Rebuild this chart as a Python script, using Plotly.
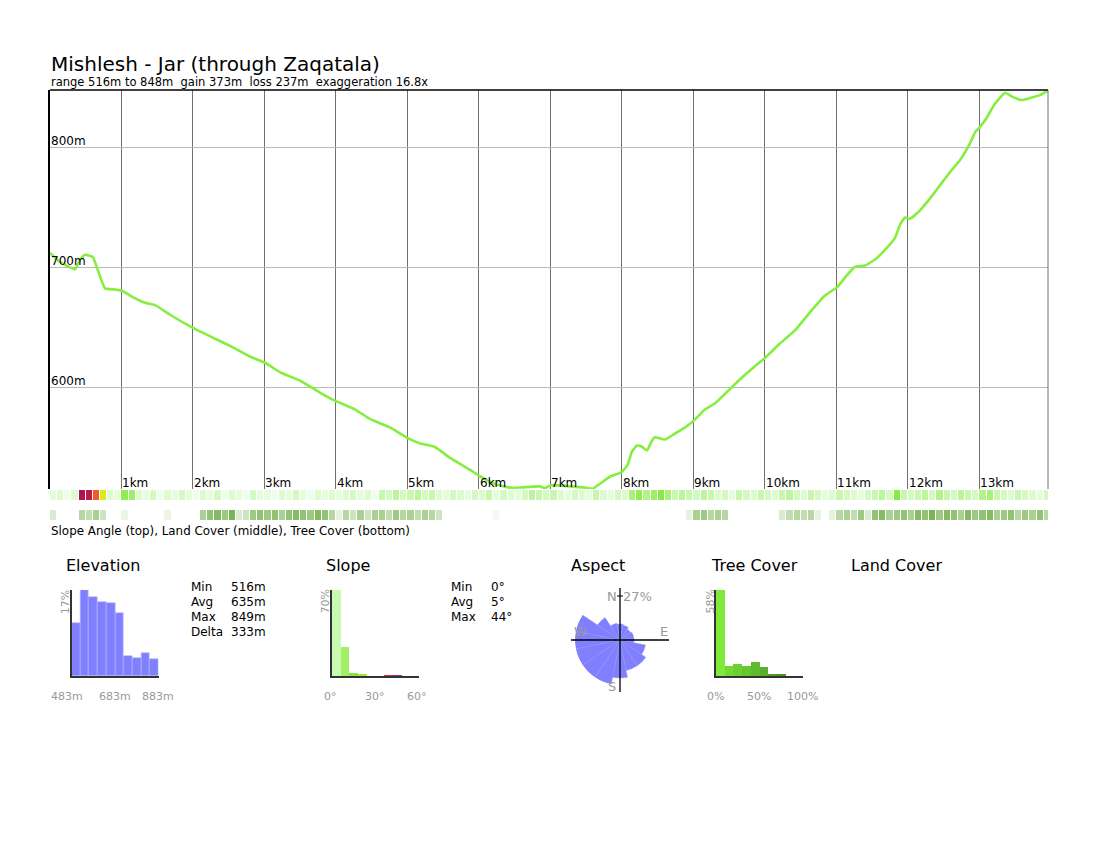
import plotly.graph_objects as go

# ---------------- data ----------------
TITLE = "Mishlesh - Jar (through Zaqatala)"
SUBTITLE = "range 516m to 848m  gain 373m  loss 237m  exaggeration 16.8x"
TOTAL_KM = 13.96

dist_km = [0.00, 0.14, 0.35, 0.42, 0.49, 0.60, 0.67, 0.77, 0.91, 1.01, 1.12, 1.33, 1.47, 1.68,
           2.00, 2.24, 2.52, 2.80, 3.01, 3.22, 3.50, 3.78, 4.00, 4.27, 4.48, 4.76, 5.01, 5.17,
           5.38, 5.59, 5.87, 6.00, 6.22, 6.43, 6.57, 6.85, 6.92, 7.01, 7.27, 7.48, 7.59, 7.69,
           7.83, 8.00, 8.08, 8.14, 8.21, 8.28, 8.35, 8.42, 8.46, 8.60, 8.74, 8.88, 9.01, 9.16,
           9.30, 9.44, 9.65, 9.86, 10.00, 10.21, 10.42, 10.63, 10.84, 11.01, 11.12, 11.26, 11.40,
           11.54, 11.68, 11.82, 11.89, 11.96, 12.03, 12.17, 12.31, 12.45, 12.59, 12.73, 12.87,
           12.94, 13.00, 13.08, 13.22, 13.36, 13.45, 13.59, 13.73, 13.85, 13.96]
elev_m = [712.5, 705, 699, 707, 711, 709, 698, 683, 682, 681, 677, 671, 669, 661,
          650, 643, 635, 626, 621, 613, 606, 596, 589, 582, 574, 567, 558, 554,
          551, 542, 532, 527, 520, 517, 517, 518, 516.5, 519, 518, 517, 516, 520,
          526, 530, 536, 547, 552, 551, 548, 556, 559, 557, 562, 567, 573, 582,
          587, 595, 607, 618, 625, 637, 648, 663, 677, 684, 692, 701, 702,
          707, 715, 725, 736, 742, 741, 748, 758, 769, 780, 790, 804,
          813, 817, 823, 837, 846, 843, 840, 842, 844, 848]

elev_ticks = [600, 700, 800]
km_ticks = list(range(1, 14))

# strips, one value per 0.1 km
slope_strip_deg = [
    3, 4, 2, 4, 45, 42, 35, 24, 4, 3,
    11, 10, 4, 3, 5, 2, 4, 3, 5, 3,
    2, 4, 3, 5, 2, 4, 3, 2, 5, 3,
    3, 2, 4, 3, 5, 3, 2, 4, 3, 4,
    3, 4, 5, 3, 4, 2, 6, 5, 7, 5,
    6, 7, 5, 6, 4, 3, 5, 4, 3, 5,
    4, 6, 3, 5, 4, 3, 5, 7, 6, 5,
    6, 4, 3, 5, 4, 3, 6, 4, 3, 5,
    4, 9, 11, 8, 10, 12, 9, 6, 7, 6,
    5, 7, 6, 4, 5, 3, 6, 5, 4, 6,
    5, 4, 6, 7, 5, 4, 6, 5, 3, 4,
    6, 5, 4, 3, 5, 6, 7, 5, 12, 6,
    5, 6, 7, 5, 8, 6, 5, 7, 6, 5,
    8, 9, 6, 5, 4, 6, 5, 4, 3, 5]
tree_strip_pct = [
    15, 0, 0, 0, 30, 25, 35, 20, 0, 0,
    8, 0, 0, 0, 0, 0, 8, 0, 0, 0,
    0, 35, 45, 50, 40, 55, 15, 20, 40, 45,
    40, 45, 35, 45, 50, 45, 40, 50, 45, 30,
    10, 30, 20, 35, 20, 35, 35, 25, 40, 30,
    35, 25, 35, 30, 20, 0, 0, 0, 0, 0,
    0, 0, 5, 0, 0, 0, 0, 0, 0, 0,
    0, 0, 0, 0, 0, 0, 0, 0, 0, 0,
    0, 0, 0, 0, 0, 0, 0, 0, 0, 10,
    35, 40, 30, 35, 30, 0, 0, 0, 0, 0,
    0, 0, 15, 25, 30, 25, 30, 10, 0, 10,
    30, 35, 25, 40, 15, 45, 50, 35, 40, 45,
    35, 50, 45, 55, 40, 50, 45, 35, 50, 40,
    45, 50, 35, 40, 45, 30, 40, 35, 45, 30]
STRIP_STEP = 0.1

# histograms
elev_bin_start = [483, 523, 563, 603, 643, 683, 723, 763, 803, 843]
elev_hist_pct = [10.5, 17.0, 15.7, 14.6, 14.4, 12.5, 3.9, 3.6, 4.5, 3.4]
elev_stats_labels = ["Min", "Avg", "Max", "Delta"]
elev_stats_values = ["516m", "635m", "849m", "333m"]
elev_axis_labels = ["483m", "683m", "883m"]

slope_bin_start = [0, 6, 12, 18, 24, 30, 36, 42, 48, 54]
slope_hist_pct = [70.0, 23.3, 2.2, 1.0, 0.0, 0.0, 0.6, 0.5, 0.0, 0.0]
slope_stats_labels = ["Min", "Avg", "Max"]
slope_stats_values = ["0°", "5°", "44°"]
slope_axis_labels = ["0°", "30°", "60°"]

aspect_dir_deg = [0, 22.5, 45, 67.5, 90, 112.5, 135, 157.5, 180, 202.5, 225, 247.5, 270, 292.5, 315, 337.5]
aspect_pct = [9.6, 9.0, 7.8, 8.4, 8.4, 15.6, 18.6, 18.6, 22.8, 27.0, 27.0, 27.0, 27.0, 27.0, 16.2, 10.2]
ASPECT_MAX = 27

tree_bin_start = [0, 10, 20, 30, 40, 50, 60, 70, 80, 90]
tree_hist_pct = [58.0, 7.0, 8.3, 6.5, 9.4, 6.1, 1.1, 0.9, 0.0, 0.0]
tree_axis_labels = ["0%", "50%", "100%"]

# ---------------- layout helpers ----------------
W, H = 1100, 850
FONT = "DejaVu Sans"


def X(px):
    return px / W


def Y(py):
    return 1 - py / H


fig = go.Figure()

# main profile
fig.add_trace(go.Scatter(x=dist_km, y=elev_m, mode="lines",
                         line=dict(color="#86ee3e", width=2.6, shape="spline", smoothing=0.4),
                         xaxis="x", yaxis="y", hoverinfo="skip"))

cells_x = [STRIP_STEP * (i + 0.5) for i in range(len(slope_strip_deg))]
slope_scale = [
    [0.0, "#fbfffa"], [2 / 60, "#eefded"], [3 / 60, "#e6fcdc"], [5 / 60, "#d4f9c2"],
    [8 / 60, "#b2f38c"], [12 / 60, "#88ea44"], [20 / 60, "#bdec26"], [27 / 60, "#f2e41c"],
    [32 / 60, "#f7981c"], [37 / 60, "#e23a22"], [42 / 60, "#c0184a"], [48 / 60, "#950f58"],
    [1.0, "#700050"]]
fig.add_trace(go.Heatmap(x=cells_x, y=[0.5], z=[slope_strip_deg], zmin=0, zmax=60,
                         colorscale=slope_scale, showscale=False, xgap=1,
                         xaxis="x2", yaxis="y2", hoverinfo="skip"))
fig.add_trace(go.Heatmap(x=cells_x, y=[0.5], z=[tree_strip_pct], zmin=0, zmax=70,
                         colorscale=[[0, "#ffffff"], [1, "#55a026"]], showscale=False, xgap=1,
                         xaxis="x3", yaxis="y3", hoverinfo="skip"))

# histograms
fig.add_trace(go.Bar(x=[b + 20 for b in elev_bin_start], y=elev_hist_pct, width=40,
                     marker=dict(color="#8080ff", line=dict(color="#b8b8ff", width=0.6)),
                     xaxis="x4", yaxis="y4", hoverinfo="skip"))
slope_colors = ["#c8fab0", "#a2f06a", "#86e83c", "#a8e830", "#e8e020", "#f0a020",
                "#d83030", "#8a3a6a", "#700050", "#700050"]
fig.add_trace(go.Bar(x=[b + 3 for b in slope_bin_start], y=slope_hist_pct, width=6,
                     marker=dict(color=slope_colors, line=dict(width=0)),
                     xaxis="x5", yaxis="y5", hoverinfo="skip"))
tree_colors = ["#80ea3c", "#72d836", "#6ccf33", "#66c630", "#5cba2c", "#58b02a",
               "#4fa024", "#4a9420", "#448a1e", "#40801c"]
fig.add_trace(go.Bar(x=[b + 5 for b in tree_bin_start], y=tree_hist_pct, width=10,
                     marker=dict(color=tree_colors, line=dict(width=0)),
                     xaxis="x6", yaxis="y6", hoverinfo="skip"))

# aspect rose
ROSE_CX, ROSE_CY, ROSE_R = 620, 640, 45
fig.add_trace(go.Barpolar(r=aspect_pct, theta=aspect_dir_deg, width=[22.5] * len(aspect_dir_deg),
                          marker=dict(color="#8080ff", line=dict(color="#9090ff", width=0.4)),
                          hoverinfo="skip"))

hidden = dict(visible=False, fixedrange=True)
MAIN_L, MAIN_R, MAIN_T, MAIN_B = 50, 1048, 90, 489
layout = dict(
    width=W, height=H, margin=dict(l=0, r=0, t=0, b=0),
    paper_bgcolor="white", plot_bgcolor="white", showlegend=False,
    font=dict(family=FONT, color="black"),
    bargap=0,
    xaxis=dict(domain=[X(MAIN_L), X(MAIN_R)], range=[0, TOTAL_KM], tick0=0, dtick=1,
               showgrid=True, gridcolor="#707070", gridwidth=1, showticklabels=False,
               ticks="", zeroline=False, showline=False),
    yaxis=dict(domain=[Y(MAIN_B), Y(MAIN_T)], range=[515.8, 848.3], tickvals=elev_ticks,
               showgrid=True, gridcolor="#b8b8b8", gridwidth=1, showticklabels=False,
               ticks="", zeroline=False, showline=True, linecolor="black", linewidth=1.5),
    xaxis2=dict(domain=[X(MAIN_L), X(MAIN_R)], range=[0, TOTAL_KM], anchor="y2", **hidden),
    yaxis2=dict(domain=[Y(500), Y(490)], range=[0, 1], anchor="x2", **hidden),
    xaxis3=dict(domain=[X(MAIN_L), X(MAIN_R)], range=[0, TOTAL_KM], anchor="y3", **hidden),
    yaxis3=dict(domain=[Y(520), Y(510)], range=[0, 1], anchor="x3", **hidden),
    polar=dict(domain=dict(x=[X(ROSE_CX - ROSE_R), X(ROSE_CX + ROSE_R)],
                           y=[Y(ROSE_CY + ROSE_R), Y(ROSE_CY - ROSE_R)]),
               bgcolor="rgba(0,0,0,0)",
               angularaxis=dict(visible=False, rotation=90, direction="clockwise"),
               radialaxis=dict(visible=False, range=[0, ASPECT_MAX])),
)

hist_axes = [("4", 71.5, 158.5, [483, 883], [0, max(elev_hist_pct)]),
             ("5", 331.5, 418.5, [0, 60], [0, 70]),
             ("6", 716, 803, [0, 100], [0, 58])]
for n, l, r, xr, yr in hist_axes:
    layout["xaxis" + n] = dict(domain=[X(l), X(r)], range=xr, anchor="y" + n, showgrid=False,
                               showticklabels=False, ticks="", zeroline=False, showline=True,
                               linecolor="#333333", linewidth=1.5, fixedrange=True)
    layout["yaxis" + n] = dict(domain=[Y(676), Y(590)], range=yr, anchor="x" + n, showgrid=False,
                               showticklabels=False, ticks="", zeroline=False, showline=True,
                               linecolor="#333333", linewidth=1.5, fixedrange=True)
fig.update_layout(**layout)

# frame lines of main plot
fig.add_shape(type="line", xref="x domain", yref="y domain", x0=0, x1=1, y0=1, y1=1,
              line=dict(color="black", width=1.5))
fig.add_shape(type="line", xref="x domain", yref="y domain", x0=1, x1=1, y0=0, y1=1,
              line=dict(color="#707070", width=1))

# aspect cross
fig.add_shape(type="line", xref="paper", yref="paper", x0=X(ROSE_CX - 49), x1=X(ROSE_CX + 49),
              y0=Y(ROSE_CY), y1=Y(ROSE_CY), line=dict(color="black", width=1.3))
fig.add_shape(type="line", xref="paper", yref="paper", x0=X(ROSE_CX), x1=X(ROSE_CX),
              y0=Y(ROSE_CY - 52), y1=Y(ROSE_CY + 52), line=dict(color="black", width=1.3))
fig.add_shape(type="line", xref="paper", yref="paper", x0=X(ROSE_CX - 3), x1=X(ROSE_CX + 3),
              y0=Y(ROSE_CY - ROSE_R + 1), y1=Y(ROSE_CY - ROSE_R + 1), line=dict(color="black", width=1))

ann = []


def text(x, y, s, size, color="black", xanchor="left", angle=0):
    ann.append(dict(x=X(x), y=Y(y), xref="paper", yref="paper", text=s, showarrow=False,
                    xanchor=xanchor, yanchor="middle", textangle=angle,
                    font=dict(family=FONT, size=size, color=color)))


NB = "\u00a0"
text(49, 64, TITLE, 20)
text(49, 82, SUBTITLE.replace(" ", NB), 11.5)

for e in elev_ticks:
    ann.append(dict(x=0, y=e, xref="x", yref="y", text=f"{e}m", showarrow=False,
                    xanchor="left", yanchor="middle", yshift=7, xshift=-1,
                    font=dict(family=FONT, size=12, color="black")))
for k in km_ticks:
    ann.append(dict(x=k, y=515.8, xref="x", yref="y", text=f"{k}km", showarrow=False,
                    xanchor="left", yanchor="middle", yshift=6, xshift=-1,
                    font=dict(family=FONT, size=12, color="black")))

text(49, 530.5, "Slope Angle (top), Land Cover (middle), Tree Cover (bottom)", 11.9)

# section titles
for x0, s in [(64, "Elevation"), (324, "Slope"), (569, "Aspect"), (709, "Tree Cover"), (849, "Land Cover")]:
    text(x0, 565, s, 16)

GREY = "#999999"
rows = [586.5, 601.5, 616.5, 631.5]
for i, (a, b) in enumerate(zip(elev_stats_labels, elev_stats_values)):
    text(189, rows[i], a, 12)
    text(229, rows[i], b, 12)
for i, (a, b) in enumerate(zip(slope_stats_labels, slope_stats_values)):
    text(449, rows[i], a, 12)
    text(489, rows[i], b, 12)

# histogram axis labels
for cx, s in zip([67, 115, 158], elev_axis_labels):
    text(cx, 696, s, 11, GREY, "center")
for cx, s in zip([330, 374.5, 416.5], slope_axis_labels):
    text(cx, 696, s, 11, GREY, "center")
for cx, s in zip([715, 759, 802.5], tree_axis_labels):
    text(cx, 696, s, 11, GREY, "center")
text(65.3, 602, f"{max(elev_hist_pct):.0f}%", 11, GREY, "center", -90)
text(324.5, 602, f"{max(slope_hist_pct):.0f}%", 11, GREY, "center", -90)
text(709.5, 602, f"{max(tree_hist_pct):.0f}%", 11, GREY, "center", -90)

# aspect labels
text(612, 596, "N", 13, GREY, "center")
text(637, 596, f"{ASPECT_MAX}%", 13, GREY, "center")
text(580, 631, "W", 13, GREY, "center")
text(664, 631, "E", 13, GREY, "center")
text(612, 686, "S", 13, GREY, "center")

fig.update_layout(annotations=ann)
fig.write_html("out.html")
